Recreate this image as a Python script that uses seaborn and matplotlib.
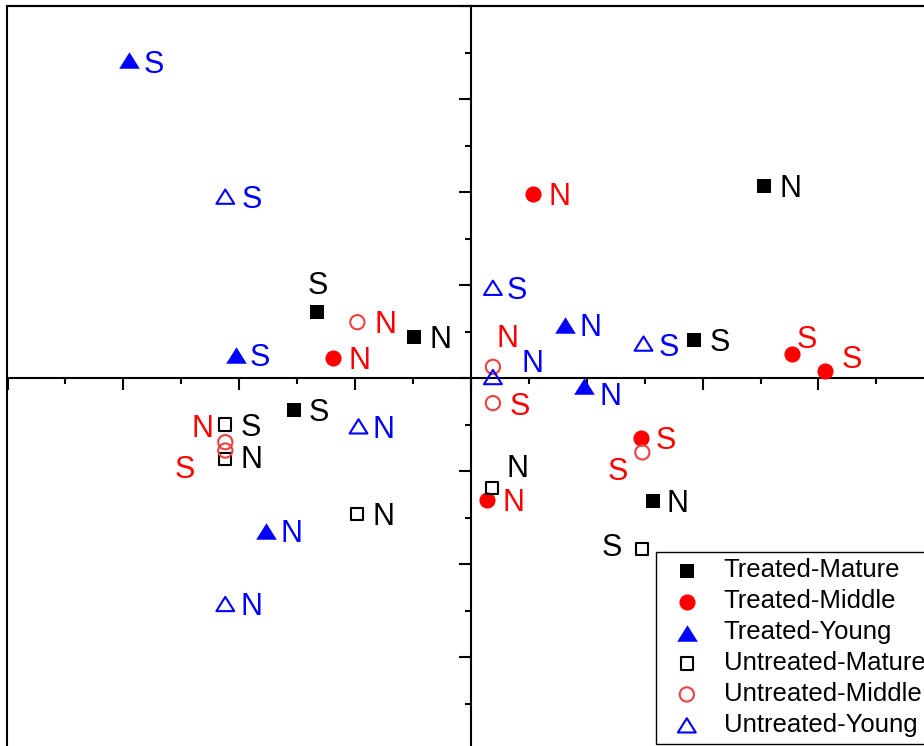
import numpy as np
import matplotlib.pyplot as plt
import seaborn as sns
from matplotlib.path import Path

# groups (legend order)
groups = ['Treated-Mature', 'Treated-Middle', 'Treated-Young',
          'Untreated-Mature', 'Untreated-Middle', 'Untreated-Young']

# ordination scores
tm_x = [2.53, -1.33, -0.49, 1.93, -1.53, 1.57]
tm_y = [2.06, 0.71, 0.44, 0.41, -0.34, -1.32]
tm_lab = ['N', 'S', 'N', 'S', 'S', 'N']

tmid_x = [0.54, -1.19, 2.77, 3.06, 1.47, 0.14]
tmid_y = [1.98, 0.22, 0.26, 0.08, -0.64, -1.31]
tmid_lab = ['N', 'N', 'S', 'S', 'S', 'N']

ty_x = [-2.95, -2.03, 0.81, 0.98, -1.77]
ty_y = [3.42, 0.25, 0.57, -0.09, -1.64]
ty_lab = ['S', 'S', 'N', 'N', 'N']

um_x = [-2.12, -2.12, -0.98, 0.18, 1.48]
um_y = [-0.50, -0.87, -1.46, -1.18, -1.84]
um_lab = ['S', 'N', 'N', 'N', 'S']

umid_x = [-0.98, 0.19, 0.19, -2.12, -2.12, 1.48]
umid_y = [0.60, 0.12, -0.27, -0.69, -0.78, -0.80]
umid_lab = ['N', 'N', 'S', 'N', 'S', 'S']

uy_x = [-2.12, 0.19, 1.49, 0.19, -0.97, -2.12]
uy_y = [1.95, 0.97, 0.37, 0.01, -0.52, -2.43]
uy_lab = ['S', 'S', 'S', 'N', 'N', 'N']

data = {
    'Treated-Mature': (tm_x, tm_y, tm_lab),
    'Treated-Middle': (tmid_x, tmid_y, tmid_lab),
    'Treated-Young': (ty_x, ty_y, ty_lab),
    'Untreated-Mature': (um_x, um_y, um_lab),
    'Untreated-Middle': (umid_x, umid_y, umid_lab),
    'Untreated-Young': (uy_x, uy_y, uy_lab),
}

# label offsets in pixels (right, down) from each marker
offsets = {
    'Treated-Mature': [(26, 0), (1, -29), (26, 0), (25, 0), (25, 0), (25, 0)],
    'Treated-Middle': [(26, 0), (26, 0), (15, -17), (26, -14), (25, 0), (26, 0)],
    'Treated-Young': [(25, 2), (24, 0), (26, 0), (26, 8), (26, 0)],
    'Untreated-Mature': [(25, 0), (26, -2), (26, 0), (26, -22), (-31, -4)],
    'Untreated-Middle': [(28, 0), (15, -31), (27, 1), (-23, -16), (-41, 16), (-25, 17)],
    'Untreated-Young': [(26, 0), (24, 0), (25, 1), (40, -16), (25, 1), (26, 0)],
}

# wider-than-tall triangle like the original
tri = Path([(0, 0.8), (-1, -0.8), (1, -0.8), (0, 0.8)],
           [Path.MOVETO, Path.LINETO, Path.LINETO, Path.CLOSEPOLY])

styles = {
    'Treated-Mature': dict(marker='s', color='black', s=110, filled=True),
    'Treated-Middle': dict(marker='o', color='red', s=135, filled=True),
    'Treated-Young': dict(marker=tri, color='blue', s=220, filled=True),
    'Untreated-Mature': dict(marker='s', color='black', s=75, filled=False),
    'Untreated-Middle': dict(marker='o', color='#EE4040', s=105, filled=False),
    'Untreated-Young': dict(marker=tri, color='blue', s=165, filled=False),
}
text_colors = {'Treated-Mature': 'black', 'Treated-Middle': 'red', 'Treated-Young': 'blue',
               'Untreated-Mature': 'black', 'Untreated-Middle': 'red', 'Untreated-Young': 'blue'}

sns.set_style('white')
plt.rcParams['font.family'] = ['Liberation Sans', 'DejaVu Sans']

W, H = 924, 746
fig = plt.figure(figsize=(W / 100, H / 100), dpi=100)
# axes run -4..4 on both scales; right and bottom edges fall just outside the picture
ax = fig.add_axes([7.5 / W, -4 / H, 926.8 / W, 744 / H])

for g in groups:
    x, y, lab = data[g]
    st = styles[g]
    if st['filled']:
        sns.scatterplot(x=x, y=y, marker=st['marker'], s=st['s'], color=st['color'],
                        edgecolor=st['color'], linewidth=0, label=g, ax=ax, zorder=3)
    else:
        sns.scatterplot(x=x, y=y, marker=st['marker'], s=st['s'], color=st['color'],
                        facecolor='none', edgecolor=st['color'], linewidth=1.5,
                        label=g, ax=ax, zorder=3)
    for xi, yi, t, (dx, dy) in zip(x, y, lab, offsets[g]):
        ax.annotate(t, xy=(xi, yi), xytext=(dx, -(dy + 11)), textcoords='offset pixels',
                    ha='center', va='baseline', fontsize=22, color=text_colors[g])

ax.set_xlim(-4, 4)
ax.set_ylim(-4, 4)
ax.set_xlabel('')
ax.set_ylabel('')

# axes crossing at the origin
ax.spines['left'].set_position(('data', 0))
ax.spines['bottom'].set_position(('data', 0))
for sp in ['left', 'bottom', 'top', 'right']:
    ax.spines[sp].set_linewidth(1.5)
    ax.spines[sp].set_color('black')
ax.add_patch(plt.Rectangle((0, 0), 1, 1, transform=ax.transAxes, fill=False,
                           lw=1.5, edgecolor='black', clip_on=False))

ax.set_xticks(np.arange(-4, 5, 1))
ax.set_xticks(np.arange(-3.5, 4, 1), minor=True)
ax.set_yticks(np.arange(-4, 5, 1))
ax.set_yticks(np.arange(-3.5, 4, 1), minor=True)
ax.tick_params(which='major', length=8.6, width=1.5, direction='out', color='black',
               labelbottom=False, labelleft=False, top=False, right=False,
               bottom=True, left=True)
ax.tick_params(which='minor', length=4.3, width=1.5, direction='out', color='black',
               top=False, right=False, bottom=True, left=True)

leg = ax.legend(loc='upper left', bbox_to_anchor=(656 / W, 1 - 552 / H),
                bbox_transform=fig.transFigure, borderaxespad=0, fontsize=18.5,
                frameon=True, fancybox=False, framealpha=1, edgecolor='black',
                borderpad=0.25, handlelength=1.9, handletextpad=0.48,
                labelspacing=0.27, scatterpoints=1, labelcolor='black')
leg.get_frame().set_linewidth(1.0)

fig.savefig('out.png', dpi=100)
